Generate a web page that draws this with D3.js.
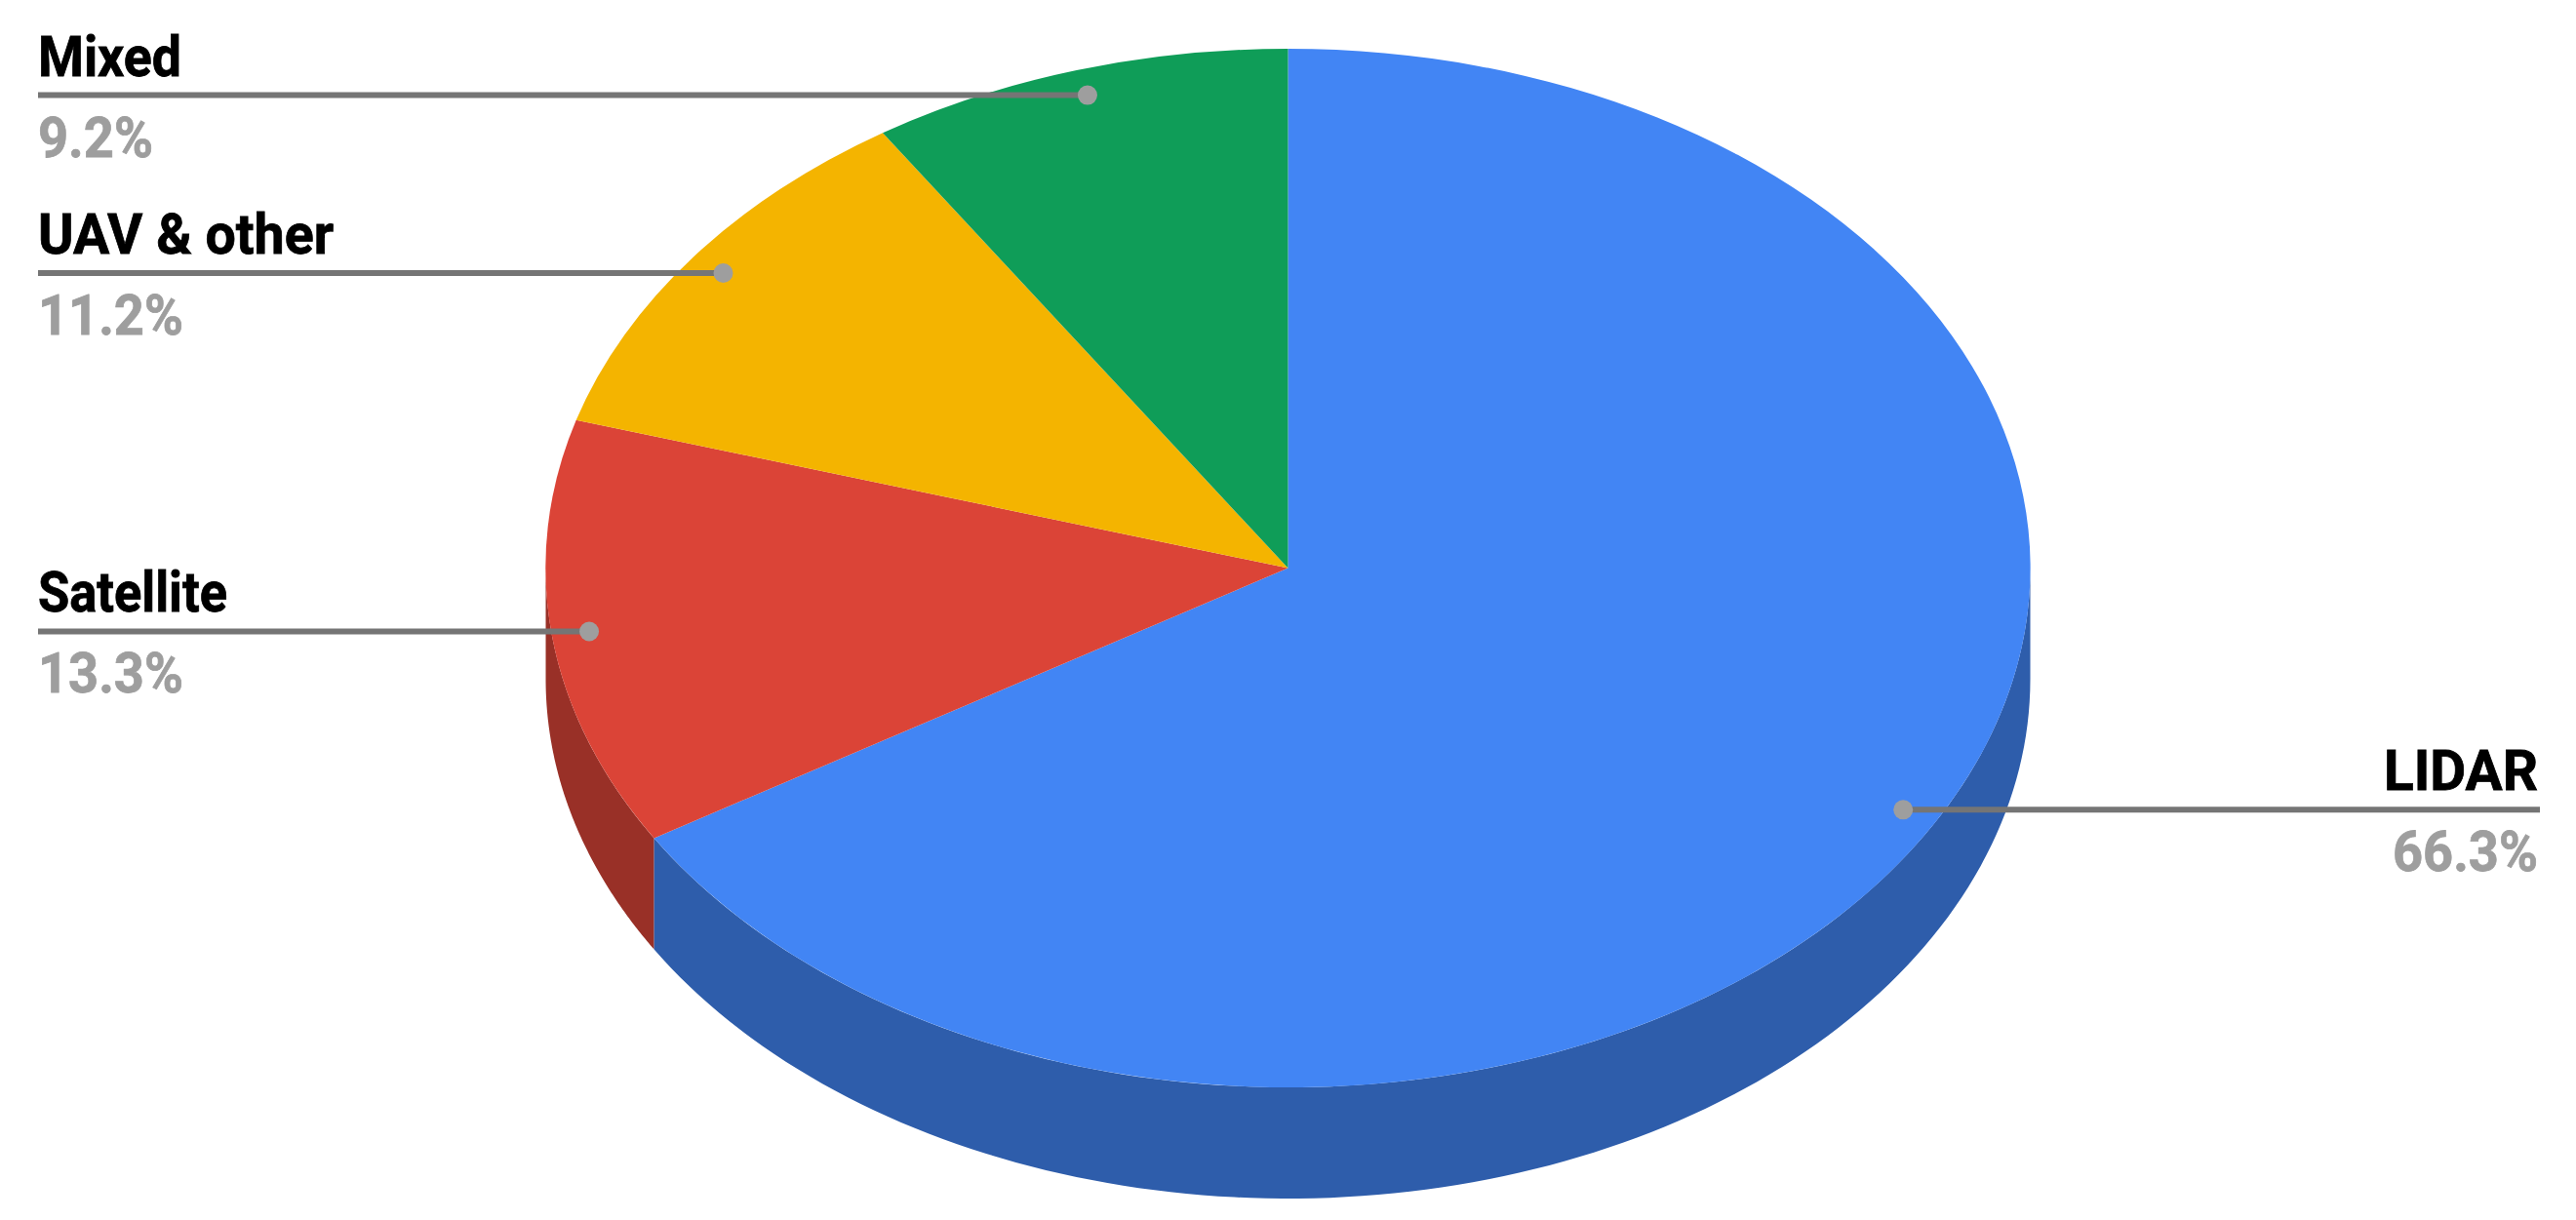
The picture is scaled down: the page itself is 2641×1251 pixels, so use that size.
<!DOCTYPE html>
<html>
<head>
<meta charset="utf-8">
<title>Data sources</title>
<script src="https://cdn.jsdelivr.net/npm/d3@7"></script>
<style>
  html, body { margin: 0; background: #fff; }
  svg { display: block; }
  text { font-family: Roboto, sans-serif; font-weight: 700; font-size: 58px; }
</style>
</head>
<body>
<svg id="chart" width="2641" height="1251"></svg>
<script>
// Chart data, clockwise from 12 o'clock
const categories = ['LIDAR', 'Satellite', 'UAV & other', 'Mixed'];
const shares = [66.3, 13.3, 11.2, 9.2];
const shareLabels = ['66.3%', '13.3%', '11.2%', '9.2%'];
const colors = ['#4285f4', '#db4437', '#f4b400', '#0f9d58'];

const width = 2641, height = 1251;
const center = { x: 1320.5, y: 582.5 };
const radius = { x: 761, y: 532.5 };
const depth = 114;
const leftEdge = 39, rightEdge = 2604;

// The labels in the picture are tall and narrow, so squeeze them to the measured widths
const nameWidths = [158, 194, 303, 147];
const shareWidths = [149, 149, 149, 118];

const svg = d3.select('#chart');

// unit circle -> squashed ellipse on the page
const sx = d3.scaleLinear().domain([-1, 1]).range([center.x - radius.x, center.x + radius.x]);
const sy = d3.scaleLinear().domain([-1, 1]).range([center.y - radius.y, center.y + radius.y]);

const pie = d3.pie().sort(null).value(d => d);
const slices = pie(shares).map((s, i) => ({ ...s, i }));

// Angles are clockwise from the top, same as d3.arc
const px = (a, r = 1) => sx(r * Math.sin(a));
const py = (a, r = 1) => sy(-r * Math.cos(a));

// Side wall: only the front half of the rim (90deg to 270deg) is visible
const lineGen = d3.line().x(d => d[0]).y(d => d[1]);
const wallPoints = (a0, a1) => {
  const step = (a1 - a0) / 120;
  const top = d3.range(121).map(k => a0 + k * step);
  return [
    ...top.map(a => [px(a), py(a)]),
    ...top.reverse().map(a => [px(a), py(a) + depth])
  ];
};

const walls = slices
  .map(s => ({
    i: s.i,
    a0: Math.max(s.startAngle, Math.PI / 2),
    a1: Math.min(s.endAngle, Math.PI * 1.5)
  }))
  .filter(w => w.a1 > w.a0);

svg.append('g')
  .selectAll('path')
  .data(walls)
  .join('path')
  .attr('d', w => lineGen(wallPoints(w.a0, w.a1)) + 'Z')
  .attr('fill', w => d3.rgb(colors[w.i]).darker(1).formatHex());

// Top face, unit arcs stretched to the ellipse
const arc = d3.arc().innerRadius(0).outerRadius(1);
svg.append('g')
  .attr('transform', `translate(${center.x},${center.y}) scale(${radius.x},${radius.y})`)
  .selectAll('path')
  .data(slices)
  .join('path')
  .attr('d', arc)
  .attr('fill', d => colors[d.i]);

// Leader lines and labels
const labels = svg.append('g')
  .selectAll('g')
  .data(slices)
  .join('g')
  .each(function (d) {
    const mid = (d.startAngle + d.endAngle) / 2;
    const x = px(mid, 0.95), y = py(mid, 0.95);
    const onRight = x > center.x;
    const edge = onRight ? rightEdge : leftEdge;
    const g = d3.select(this);

    g.append('line')
      .attr('x1', edge).attr('x2', x)
      .attr('y1', y).attr('y2', y)
      .attr('stroke', '#757575')
      .attr('stroke-width', 6);

    g.append('circle')
      .attr('cx', x + 0.5).attr('cy', y).attr('r', 10)
      .attr('fill', '#9e9e9e');

    g.append('text')
      .attr('x', edge + (onRight ? -2 : 0))
      .attr('y', y - 20)
      .attr('text-anchor', onRight ? 'end' : 'start')
      .attr('fill', '#000')
      .attr('stroke', '#000')
      .attr('stroke-width', 0.8)
      .attr('textLength', nameWidths[d.i])
      .attr('lengthAdjust', 'spacingAndGlyphs')
      .text(categories[d.i]);

    g.append('text')
      .attr('x', edge + (onRight ? -2 : 0))
      .attr('y', y + 63)
      .attr('text-anchor', onRight ? 'end' : 'start')
      .attr('fill', '#9e9e9e')
      .attr('stroke', '#9e9e9e')
      .attr('stroke-width', 0.8)
      .attr('textLength', shareWidths[d.i])
      .attr('lengthAdjust', 'spacingAndGlyphs')
      .text(shareLabels[d.i]);
  });
</script>
</body>
</html>
